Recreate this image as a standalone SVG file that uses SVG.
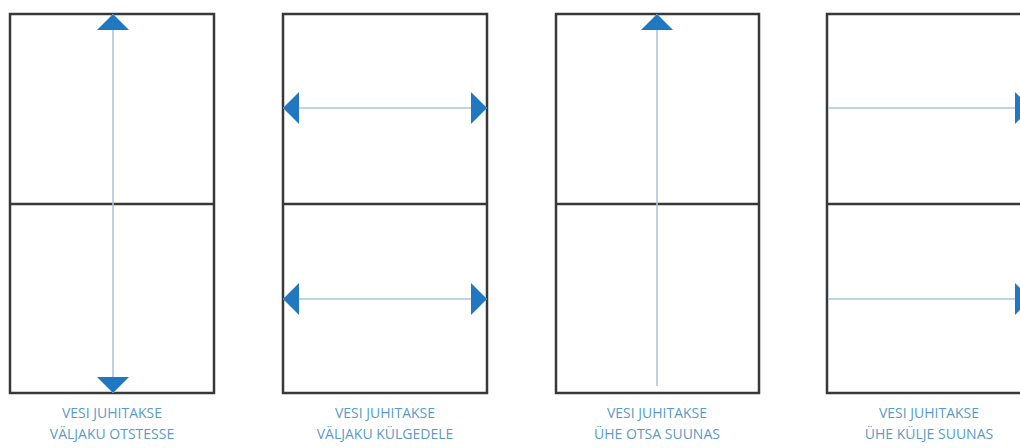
<svg xmlns="http://www.w3.org/2000/svg" width="1020" height="448" viewBox="0 0 1020 448">
<style>
.box{fill:#fff;stroke:#383838;stroke-width:2.5}
.mid{stroke:#383838;stroke-width:2.5}
.flow{stroke:#a9c7dd;stroke-width:1.6;fill:none}
.lbl{font-family:"Open Sans","Liberation Sans",sans-serif;font-size:14px;fill:#5b9bc6;text-anchor:middle}
</style>
<defs>
<marker id="ah" viewBox="0 0 16 32" refX="16" refY="16" markerWidth="16" markerHeight="32" markerUnits="userSpaceOnUse" orient="auto-start-reverse">
<path d="M0,0 L16,16 L0,32 z" fill="#1f78c1"/>
</marker>
</defs>
<rect width="1020" height="448" fill="#fff"/>
<g id="field1">
<rect class="box" x="10" y="14" width="204" height="379"/>
<line class="mid" x1="10" y1="204" x2="214" y2="204"/>
<text class="lbl" x="112" y="418">VESI JUHITAKSE</text>
<text class="lbl" x="112" y="439">VÄLJAKU OTSTESSE</text>
</g>
<g id="field2">
<rect class="box" x="283" y="14" width="204" height="379"/>
<line class="mid" x1="283" y1="204" x2="487" y2="204"/>
<text class="lbl" x="385" y="418">VESI JUHITAKSE</text>
<text class="lbl" x="385" y="439">VÄLJAKU KÜLGEDELE</text>
</g>
<g id="field3">
<rect class="box" x="556" y="14" width="203" height="379"/>
<line class="mid" x1="556" y1="204" x2="759" y2="204"/>
<text class="lbl" x="657" y="418">VESI JUHITAKSE</text>
<text class="lbl" x="657" y="439">ÜHE OTSA SUUNAS</text>
</g>
<g id="field4">
<rect class="box" x="827" y="14" width="204" height="379"/>
<line class="mid" x1="827" y1="204" x2="1031" y2="204"/>
<text class="lbl" x="929" y="418">VESI JUHITAKSE</text>
<text class="lbl" x="929" y="439">ÜHE KÜLJE SUUNAS</text>
</g>
<g id="connectors">
<line class="flow" x1="113" y1="393" x2="113" y2="14" marker-start="url(#ah)" marker-end="url(#ah)"/>
<line class="flow" x1="283" y1="108" x2="487" y2="108" marker-start="url(#ah)" marker-end="url(#ah)"/>
<line class="flow" x1="283" y1="299" x2="487" y2="299" marker-start="url(#ah)" marker-end="url(#ah)"/>
<line class="flow" x1="657" y1="386" x2="657" y2="14" marker-end="url(#ah)"/>
<line class="flow" x1="828" y1="108" x2="1031" y2="108" marker-end="url(#ah)"/>
<line class="flow" x1="828" y1="299" x2="1031" y2="299" marker-end="url(#ah)"/>
</g>
</svg>
